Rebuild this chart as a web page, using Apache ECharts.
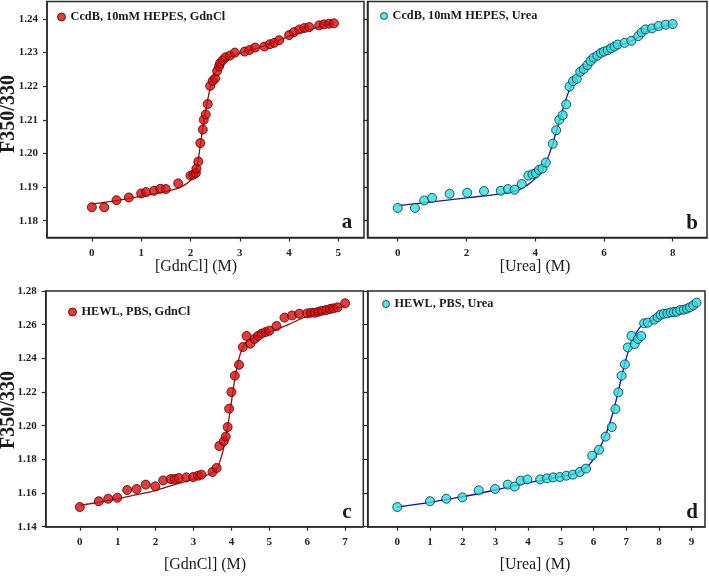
<!DOCTYPE html>
<html><head><meta charset="utf-8">
<script src="https://cdn.jsdelivr.net/npm/echarts@6/dist/echarts.min.js"></script>
<style>html,body{margin:0;padding:0;background:#fff}#c{width:709px;height:576px}</style>
</head><body><div id="c"></div>
<script>
// ---- Panel a: CcdB, 10mM HEPES, GdnCl ----
const aX = [0,0.25,0.5,0.75,1.0,1.1,1.26,1.39,1.5,1.75,2.0,2.06,2.11,2.12,2.16,2.2,2.25,2.27,2.31,2.35,2.4,2.45,2.5,2.54,2.58,2.6,2.65,2.71,2.8,2.9,3.1,3.2,3.31,3.5,3.61,3.7,3.8,4.0,4.1,4.21,4.31,4.41,4.61,4.71,4.81,4.91];
const aY = [1.1840,1.1840,1.1861,1.1869,1.1881,1.1885,1.1889,1.1895,1.1894,1.1911,1.1934,1.1937,1.1942,1.1955,1.1976,1.2031,1.2071,1.2100,1.2116,1.2147,1.2201,1.2216,1.2223,1.2245,1.2259,1.2268,1.2277,1.2286,1.2291,1.2300,1.2303,1.2308,1.2315,1.2318,1.2325,1.2329,1.2337,1.2352,1.2361,1.2369,1.2373,1.2376,1.2381,1.2384,1.2386,1.2387];
const aFitX = [0,0.5,1.0,1.5,1.75,1.9,2.0,2.1,2.15,2.2,2.25,2.3,2.35,2.4,2.45,2.5,2.6,2.7,2.8,3.0,3.5,4.0,4.5,4.9];
const aFitY = [1.1850,1.1860,1.1873,1.1887,1.1897,1.1908,1.1920,1.1945,1.1975,1.2025,1.2075,1.2120,1.2160,1.2195,1.2220,1.2238,1.2262,1.2278,1.2287,1.2298,1.2320,1.2348,1.2372,1.2388];
// ---- Panel b: CcdB, 10mM HEPES, Urea ----
const bX = [0,0.5,0.77,1.0,1.51,2.02,2.51,3.0,3.21,3.4,3.61,3.8,3.92,4.02,4.11,4.21,4.31,4.51,4.61,4.7,4.8,4.9,5.0,5.1,5.21,5.31,5.41,5.52,5.61,5.7,5.81,5.91,6.0,6.11,6.21,6.31,6.4,6.6,6.8,7.0,7.1,7.21,7.4,7.59,7.8,8.0];
const bY = [1.1838,1.1838,1.1860,1.1868,1.1880,1.1883,1.1888,1.1889,1.1894,1.1892,1.1909,1.1934,1.1938,1.1941,1.1951,1.1955,1.1973,1.2029,1.2069,1.2100,1.2114,1.2146,1.2199,1.2215,1.2222,1.2243,1.2251,1.2263,1.2275,1.2285,1.2291,1.2299,1.2303,1.2307,1.2313,1.2318,1.2324,1.2329,1.2335,1.2349,1.2360,1.2369,1.2372,1.2379,1.2383,1.2385];
const bFitX = [0,1,2,3,3.5,3.8,4.0,4.2,4.4,4.6,4.8,5.0,5.2,5.4,5.6,5.8,6.0,6.5,7.0,7.2,7.5,8.0];
const bFitY = [1.1845,1.1856,1.1868,1.1880,1.1890,1.1908,1.1925,1.1950,1.1995,1.2060,1.2130,1.2190,1.2228,1.2252,1.2270,1.2287,1.2300,1.2322,1.2345,1.2360,1.2372,1.2385];
// ---- Panel c: HEWL, PBS, GdnCl ----
const cX = [0,0.5,0.75,0.99,1.25,1.5,1.74,1.99,2.2,2.4,2.5,2.61,2.81,2.99,3.12,3.21,3.5,3.61,3.68,3.8,3.85,3.9,3.94,4.0,4.09,4.2,4.3,4.4,4.5,4.61,4.7,4.8,4.9,5.0,5.19,5.4,5.6,5.79,6.0,6.1,6.2,6.3,6.39,6.5,6.6,6.69,6.8,7.0];
const cY = [1.1517,1.1551,1.1566,1.1572,1.1618,1.1624,1.1650,1.1640,1.1675,1.1683,1.1683,1.1689,1.1693,1.1695,1.1703,1.1709,1.1725,1.1749,1.1879,1.1907,1.1935,1.1992,1.2101,1.2200,1.2297,1.2362,1.2467,1.2533,1.2487,1.2515,1.2533,1.2547,1.2556,1.2564,1.2592,1.2642,1.2655,1.2665,1.2667,1.2671,1.2671,1.2677,1.2683,1.2687,1.2693,1.2697,1.2703,1.2727];
const cFitX = [0,0.5,1.0,1.5,2.0,2.5,3.0,3.4,3.6,3.7,3.8,3.9,4.0,4.1,4.2,4.3,4.4,4.6,5.0,5.5,6.0,6.5,7.0];
const cFitY = [1.1527,1.1545,1.1565,1.1590,1.1615,1.1650,1.1683,1.1710,1.1740,1.1790,1.1870,1.1990,1.2140,1.2290,1.2400,1.2465,1.2500,1.2523,1.2555,1.2600,1.2650,1.2675,1.2715];
// ---- Panel d: HEWL, PBS, Urea ----
const dX = [0,1.0,1.5,1.99,2.49,2.99,3.38,3.59,3.77,3.98,4.37,4.58,4.77,4.97,5.17,5.37,5.58,5.77,5.96,6.17,6.37,6.56,6.67,6.76,6.86,6.96,7.05,7.16,7.26,7.36,7.46,7.55,7.66,7.86,7.96,8.05,8.15,8.26,8.36,8.46,8.55,8.65,8.76,8.86,8.95,9.05,9.15];
const dY = [1.1517,1.1551,1.1566,1.1574,1.1616,1.1624,1.1650,1.1638,1.1673,1.1681,1.1681,1.1687,1.1693,1.1695,1.1703,1.1709,1.1725,1.1745,1.1822,1.1857,1.1935,1.1992,1.2099,1.2198,1.2297,1.2364,1.2465,1.2533,1.2485,1.2515,1.2533,1.2608,1.2612,1.2630,1.2644,1.2659,1.2665,1.2667,1.2673,1.2675,1.2677,1.2687,1.2689,1.2695,1.2703,1.2715,1.2731];
const dFitX = [0,1,2,3,4,5,5.5,5.8,6.0,6.2,6.4,6.6,6.8,7.0,7.2,7.4,7.6,8.0,8.5,9.0,9.2];
const dFitY = [1.1517,1.1545,1.1578,1.1618,1.1662,1.1697,1.1720,1.1755,1.1800,1.1870,1.1960,1.2080,1.2240,1.2400,1.2510,1.2580,1.2610,1.2640,1.2668,1.2700,1.2725];
// ---- Tick values / labels ----
const aXTicks = [0,1,2,3,4,5];
const bXTicks = [0,2,4,6,8];
const cXTicks = [0,1,2,3,4,5,6,7];
const dXTicks = [0,1,2,3,4,5,6,7,8,9];
const abYTicks = [1.18,1.19,1.20,1.21,1.22,1.23,1.24];
const cdYTicks = [1.14,1.16,1.18,1.20,1.22,1.24,1.26,1.28];
const seriesNames = ['CcdB, 10mM HEPES, GdnCl','CcdB, 10mM HEPES, Urea','HEWL, PBS, GdnCl','HEWL, PBS, Urea'];
const xTitles = ['[GdnCl] (M)','[Urea] (M)','[GdnCl] (M)','[Urea] (M)'];
const yTitle = 'F350/330';
const panelLetters = ['a','b','c','d'];

const zip = (xs, ys) => xs.map((x, i) => [x, ys[i]]);
const FONT = '"Liberation Serif","Times New Roman",serif';
const AX = '#2a2a2a';

const grids = [
  {left: 47, top: 1.5, width: 317, height: 236},
  {left: 367.5, top: 1.5, width: 339.5, height: 236},
  {left: 45.7, top: 291, width: 317.6, height: 235.7},
  {left: 367.7, top: 291, width: 337.3, height: 235.7}
].map(g => Object.assign(g, {show: true, borderColor: AX, borderWidth: 1.5, backgroundColor: 'transparent'}));

function xAxis(i, min, max, ticks) {
  return {type: 'value', gridIndex: i, min, max, position: 'bottom',
    axisLine: {show: true, onZero: false, lineStyle: {color: AX, width: 1.5}},
    axisTick: {show: true, inside: false, length: 4, customValues: ticks, lineStyle: {color: AX, width: 1.2}},
    axisLabel: {show: true, customValues: ticks, margin: 10, fontFamily: FONT, fontWeight: 'bold', fontSize: 11, color: '#222'},
    splitLine: {show: false}};
}
function yAxis(i, min, max, ticks, labels) {
  return {type: 'value', gridIndex: i, min, max, position: 'left',
    axisLine: {show: true, onZero: false, lineStyle: {color: AX, width: 1.5}},
    axisTick: {show: true, inside: false, length: 4, customValues: ticks, lineStyle: {color: AX, width: 1.2}},
    axisLabel: {show: labels, customValues: ticks, margin: 9, fontFamily: FONT, fontWeight: 'bold', fontSize: 11, color: '#222',
      formatter: v => Number(v).toFixed(2)},
    splitLine: {show: false}};
}

const RED = {color: '#dd0b0b', borderColor: '#4a0000', borderWidth: 1};
const CYAN = {color: '#2fe0e0', borderColor: '#0a2a3a', borderWidth: 1};
const lineCols = ['#8b1010', '#1e1e8c', '#8b1010', '#0a0ad8'];
const pts = [zip(aX, aY), zip(bX, bY), zip(cX, cY), zip(dX, dY)];
const fits = [zip(aFitX, aFitY), zip(bFitX, bFitY), zip(cFitX, cFitY), zip(dFitX, dFitY)];
const styles = [RED, CYAN, RED, CYAN];

const series = [];
for (let i = 0; i < 4; i++) {
  series.push({type: 'line', name: 'fit' + i, xAxisIndex: i, yAxisIndex: i, data: fits[i], smooth: 0.35,
    showSymbol: false, symbol: 'none', lineStyle: {color: lineCols[i], width: 1.3}, z: 2, silent: true});
  series.push({type: 'scatter', name: seriesNames[i], xAxisIndex: i, yAxisIndex: i, data: pts[i],
    symbol: 'circle', symbolSize: 9, itemStyle: styles[i], z: 3});
}

const legendPos = [[57, 11], [380, 10], [68, 306], [382, 298]];
const legendIcon = [8, 7, 8, 7];
const legends = legendPos.map((p, i) => ({
  left: p[0], top: p[1], data: [{name: seriesNames[i], icon: 'circle'}],
  itemWidth: legendIcon[i], itemHeight: legendIcon[i], itemGap: 0, padding: 0,
  itemStyle: styles[i],
  textStyle: {fontFamily: FONT, fontWeight: 'bold', fontSize: 12.3, color: '#1a1a1a', padding: [0, 0, 0, 0]}
}));

const graphics = [];
const titlePos = [[196, 267], [535, 267], [205, 565], [535, 565]];
titlePos.forEach((p, i) => graphics.push({type: 'text', x: p[0], y: p[1],
  style: {text: xTitles[i], font: '16px ' + FONT, fill: '#1a1a1a', textAlign: 'center', textVerticalAlign: 'middle'}}));
[[9, 114], [9, 410]].forEach(p => graphics.push({type: 'text', x: p[0], y: p[1], rotation: Math.PI / 2,
  style: {text: yTitle, font: 'bold 20px ' + FONT, fill: '#1a1a1a', textAlign: 'center', textVerticalAlign: 'middle'}}));
const letterPos = [[347, 223], [692, 224], [347, 513], [692, 513]];
letterPos.forEach((p, i) => graphics.push({type: 'text', x: p[0], y: p[1],
  style: {text: panelLetters[i], font: 'bold 21px ' + FONT, fill: '#1a1a1a', textAlign: 'center', textVerticalAlign: 'middle'}}));

const chart = echarts.init(document.getElementById('c'), null, {renderer: 'canvas'});
chart.setOption({
  animation: false,
  backgroundColor: '#ffffff',
  grid: grids,
  xAxis: [xAxis(0, -0.91, 5.52, aXTicks), xAxis(1, -0.88, 9.0, bXTicks), xAxis(2, -0.9, 7.48, cXTicks), xAxis(3, -0.905, 9.41, dXTicks)],
  yAxis: [yAxis(0, 1.175, 1.2452, abYTicks, true), yAxis(1, 1.175, 1.2452, abYTicks, false),
          yAxis(2, 1.14, 1.28, cdYTicks, true), yAxis(3, 1.14, 1.28, cdYTicks, false)],
  legend: legends,
  series,
  graphic: graphics
});
</script></body></html>
